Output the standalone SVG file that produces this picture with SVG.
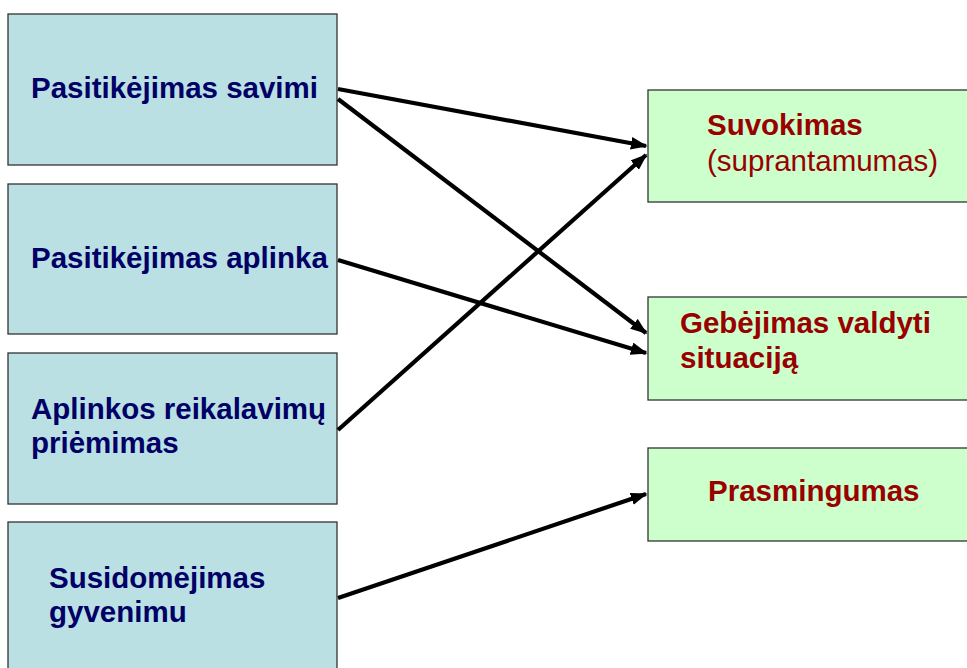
<svg xmlns="http://www.w3.org/2000/svg" width="967" height="668" viewBox="0 0 967 668">
<defs>
<style>
.lbox{fill:#bbe0e3;stroke:#333333;stroke-width:1.3}
.rbox{fill:#ccffcc;stroke:#333333;stroke-width:1.3}
.lt{font-family:"Liberation Sans",Arial,sans-serif;font-size:29.5px;font-weight:bold;fill:#000066}
.rt{font-family:"Liberation Sans",Arial,sans-serif;font-size:29.5px;fill:#990000}
.b{font-weight:bold}
.conn line{stroke:#000000;stroke-width:4.2;marker-end:url(#ah)}
</style>
<marker id="ah" markerWidth="4" markerHeight="3" refX="3.6" refY="1.5" orient="auto" markerUnits="strokeWidth">
<path d="M0,0 L4,1.5 L0,3 Z" fill="#000000"/>
</marker>
</defs>
<rect width="967" height="668" fill="#ffffff"/>
<g id="n1"><rect class="lbox" x="8" y="14" width="329" height="151"/><text class="lt" x="31" y="98">Pasitikėjimas savimi</text></g>
<g id="n2"><rect class="lbox" x="8" y="184" width="329" height="150"/><text class="lt" x="31" y="268">Pasitikėjimas aplinka</text></g>
<g id="n3"><rect class="lbox" x="8" y="353" width="329" height="151"/><text class="lt" x="31" y="419">Aplinkos reikalavimų</text><text class="lt" x="31" y="453">priėmimas</text></g>
<g id="n4"><rect class="lbox" x="8" y="522" width="329" height="160"/><text class="lt" x="49" y="588">Susidomėjimas</text><text class="lt" x="49" y="622">gyvenimu</text></g>
<g id="r1"><rect class="rbox" x="648" y="90" width="330" height="112"/><text class="rt b" x="707" y="135">Suvokimas</text><text class="rt" x="707" y="171">(suprantamumas)</text></g>
<g id="r2"><rect class="rbox" x="648" y="297" width="330" height="103"/><text class="rt b" x="680" y="333">Gebėjimas valdyti</text><text class="rt b" x="680" y="368">situaciją</text></g>
<g id="r3"><rect class="rbox" x="648" y="448" width="330" height="93"/><text class="rt b" x="708" y="501">Prasmingumas</text></g>
<g id="connectors" class="conn">
<line x1="338" y1="89" x2="646" y2="146"/>
<line x1="338" y1="99" x2="646" y2="333"/>
<line x1="338" y1="260" x2="646" y2="353"/>
<line x1="338" y1="430" x2="646" y2="155"/>
<line x1="338" y1="598" x2="646" y2="494"/>
</g>
</svg>
